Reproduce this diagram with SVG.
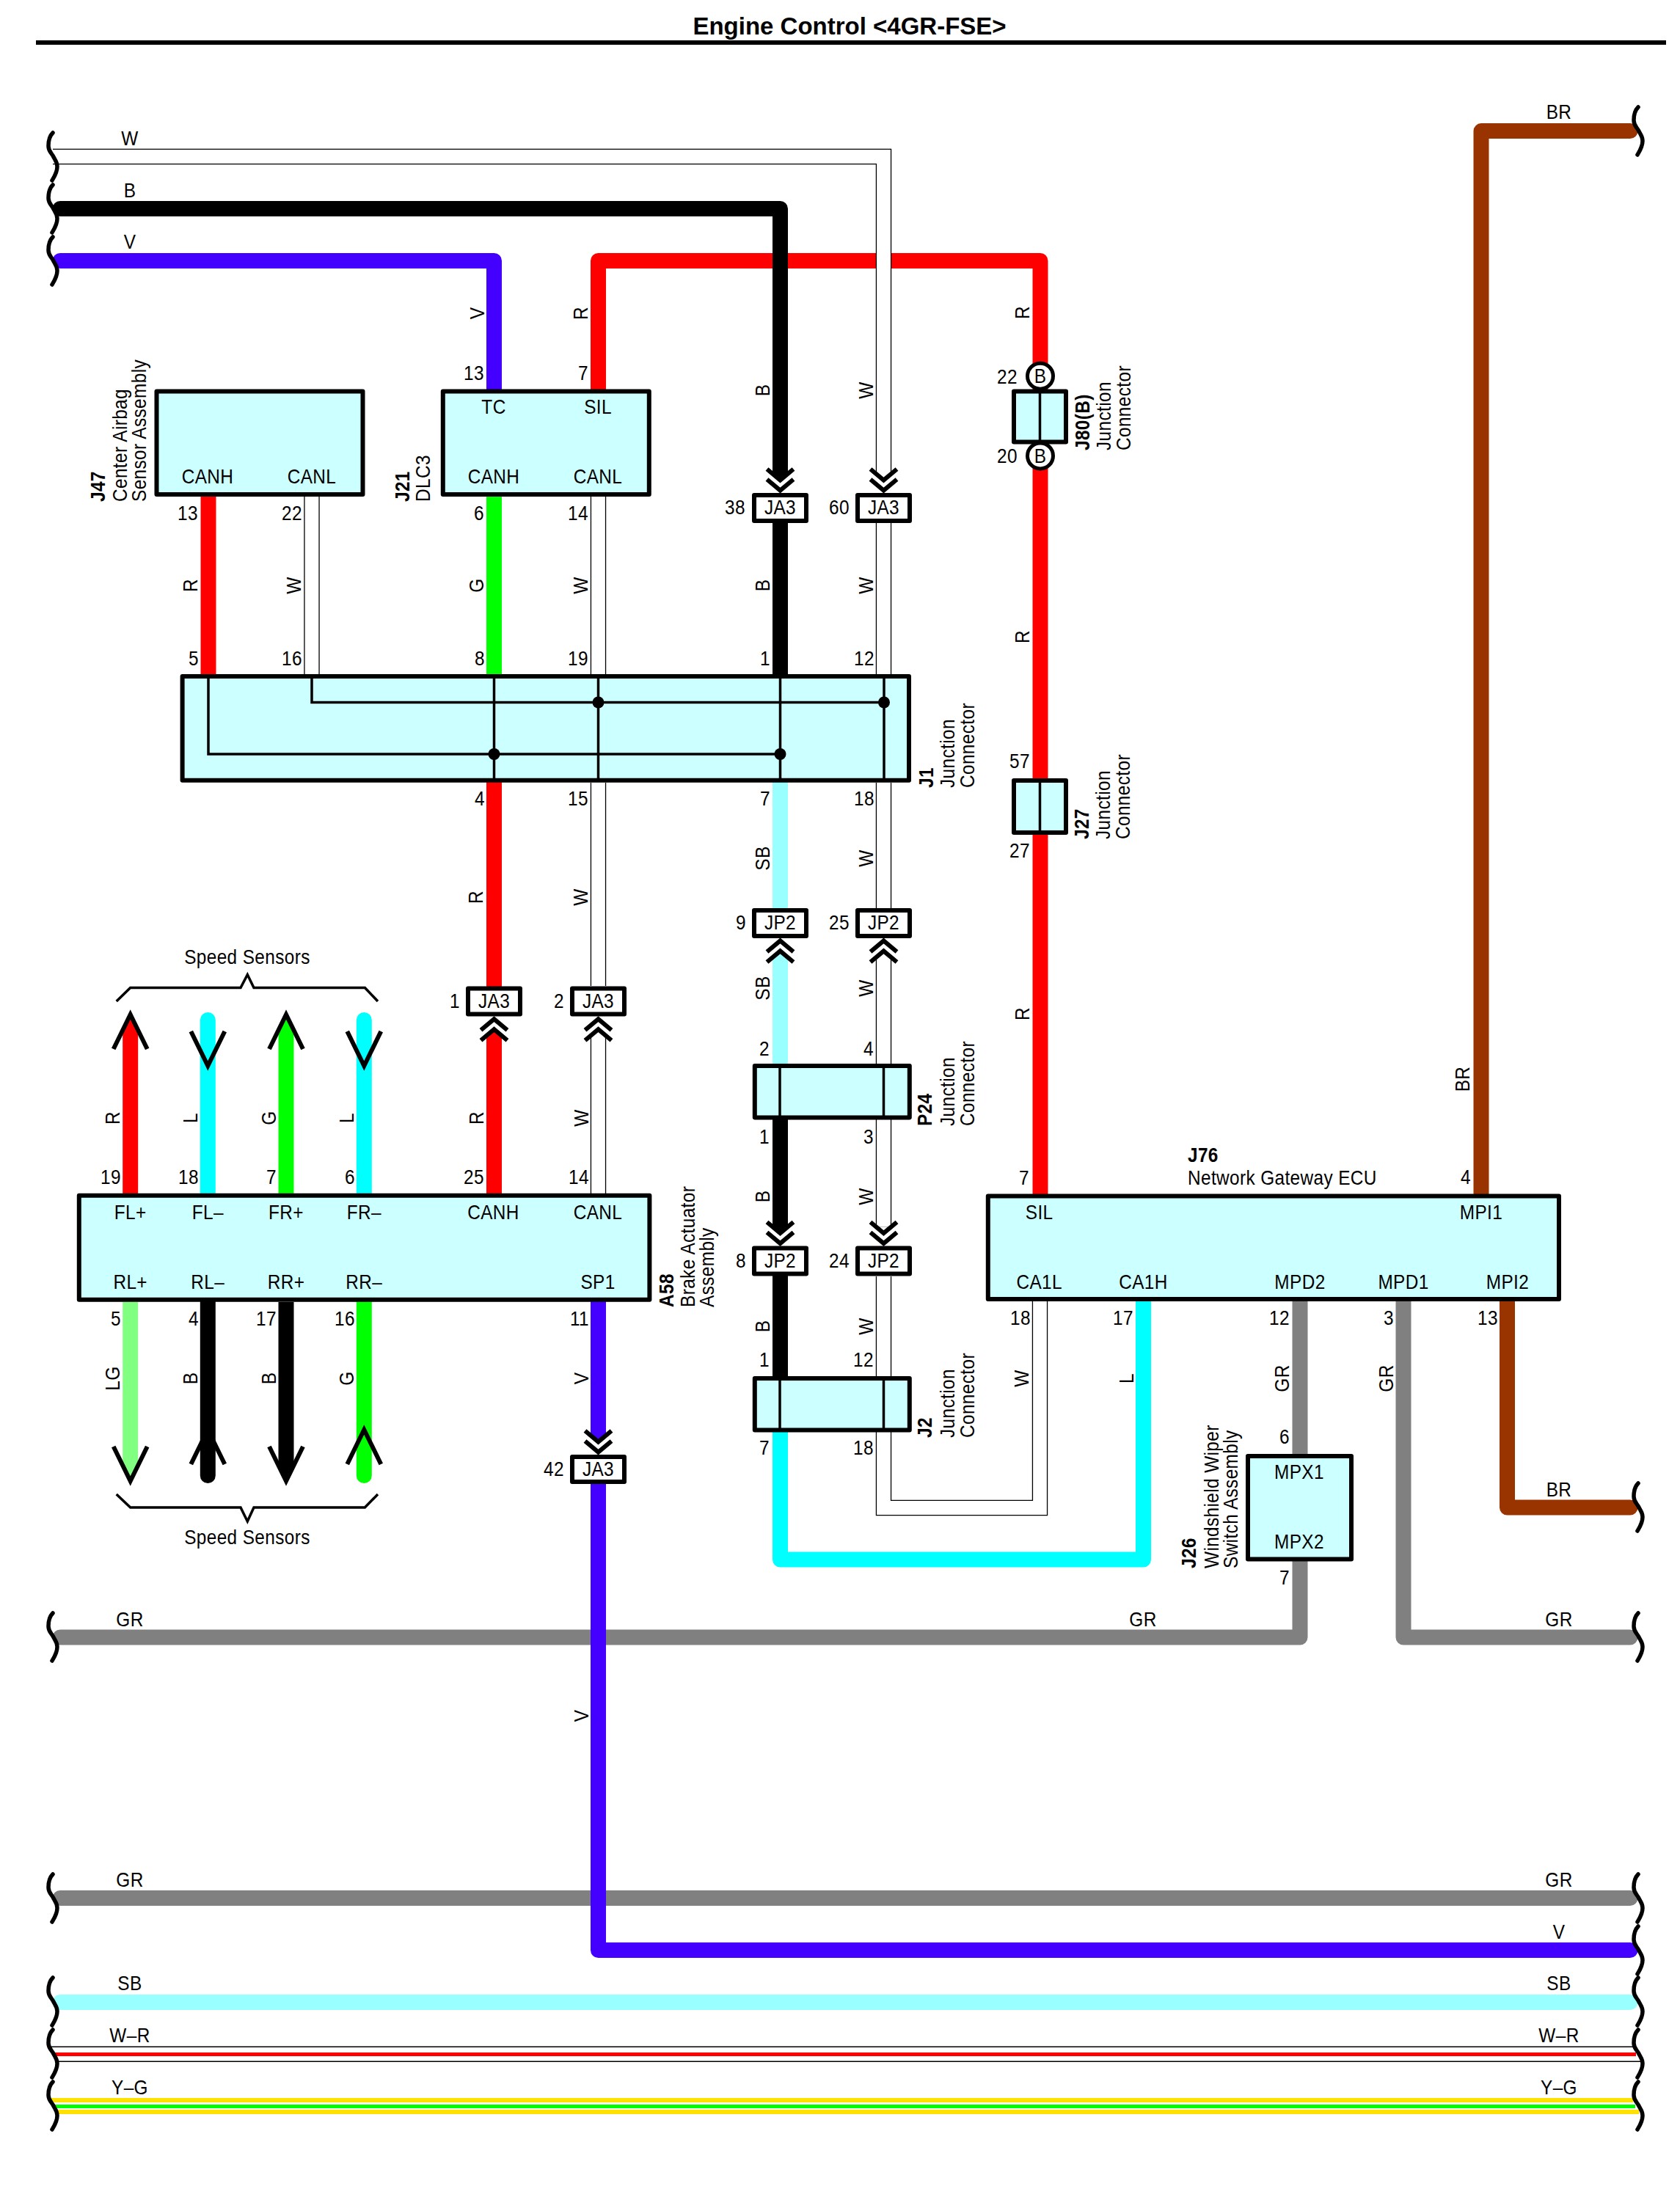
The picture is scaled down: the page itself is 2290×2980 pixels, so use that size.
<svg xmlns="http://www.w3.org/2000/svg" width="2290" height="2980" viewBox="0 0 2290 2980">
<style>
text{font-family:"Liberation Sans",Arial,sans-serif;font-size:28px;letter-spacing:.45px;fill:#000;transform-box:fill-box;transform-origin:left;transform:scaleX(.87)}
.c{text-anchor:middle}.e{text-anchor:end}.b{font-weight:bold}
.c text,text.c{transform-origin:center}
.e text,text.e{transform-origin:right}
#title{font-size:33px;font-weight:bold;letter-spacing:0;transform:none}
.box{fill:#ccffff;stroke:#000;stroke-width:6;stroke-linejoin:round}
.lbl{fill:#fff;stroke:#000;stroke-width:6;stroke-linejoin:round}
.in{fill:none;stroke:#000;stroke-width:3.5}
.w{fill:none;stroke-width:21;stroke-linecap:round;stroke-linejoin:round}
.wo{fill:none;stroke:#000;stroke-width:21.4}
.wi{fill:none;stroke:#fff;stroke-width:18.8}
.sq{fill:none;stroke:#000;stroke-width:5.5;stroke-linecap:round}
.ch{fill:none;stroke:#000;stroke-width:6}
.br{fill:none;stroke:#000;stroke-width:3.5}
.thin{fill:none;stroke:#000;stroke-width:1.4}
</style>
<defs>
<path id="sq" class="sq" d="M0 0C-4 4-6 11-6 18C-6 26-1 28 1 33C3 37 6 40 6 46C6 54 2 60-1 65"/>
<path id="cu" class="ch" d="M-18 18.5L0 3.5L18 18.5M-18 32.5L0 17.5L18 32.5"/>
<path id="cd" class="ch" d="M-18-18.5L0-3.5L18-18.5M-18-32.5L0-17.5L18-32.5"/>
<path id="au" class="ch" d="M-23 47L0 0L23 47"/>
<path id="ad" class="ch" d="M-23-47L0 0L23-47"/>
<path id="wp" d="M72 213.5H1204.5V646M1204.5 713V919M425 677V919M815.5 677V919M815.5 1067V1344M815.5 1412V1627M1204.5 1067V1238M1204.5 1305V1450M1204.5 1526V1672.5M1204.5 1740V1876M1204.5 1952V2055.5H1417.5V1774"/>
</defs>
<rect x="0" y="0" width="2290" height="2980" fill="#fff"/>
<text id="title" class="c" x="1158" y="47">Engine Control &lt;4GR-FSE&gt;</text>
<rect x="49" y="55" width="2222" height="6" fill="#000"/>

<g id="connectors">
<path class="w" stroke="#ff0000" d="M815.5 533V355.5H1418V1627"/>
<path class="w" stroke="#000" d="M82 284.5H1063.5V644"/>
<use href="#wp" class="wo"/><use href="#wp" class="wi"/>
<path class="w" stroke="#4400ff" d="M82 355.5H673.5V531"/>
<path class="w" stroke="#ff0000" d="M284 677V919M673.5 1067V1344M673.5 1413.5V1627"/>
<path class="w" stroke="#00ff00" d="M673.5 677V919"/>
<path class="w" stroke="#000" d="M1063.5 713V919M1063.5 1526V1670.5M1063.5 1740V1876"/>
<path class="w" stroke="#99ffff" d="M1063.5 1067V1238M1063.5 1307V1450M82 2729.5H2222"/>
<path class="w" stroke="#00ffff" d="M1063.5 1952V2126H1558.5V1774"/>
<path class="w" stroke="#993300" d="M2222 178.6H2019V1627M2054.5 1774V2055H2222"/>
<path class="w" stroke="#808080" d="M1772 1774V1983M82 2232H1772V2128M1913 1774V2232H2222M82 2587.5H2222"/>
<path class="w" stroke="#4400ff" d="M815.5 1775V1955M815.5 2022V2658.5H2222"/>
<!-- speed sensor wires -->
<path fill="#ff0000" d="M167.2 1627V1407L177.7 1383L188.2 1407V1627Z"/>
<path fill="#00ff00" d="M379.5 1627V1407L390 1383L400.5 1407V1627Z"/>
<path fill="#80ff80" d="M167.2 1775V1996L177.7 2020L188.2 1996V1775Z"/>
<path fill="#000" d="M379.5 1775V1996L390 2020L400.5 1996V1775Z"/>
<path class="w" stroke="#00ffff" d="M283.3 1390.5V1627M496.3 1390.5V1627"/>
<path class="w" stroke="#000" d="M283.3 1775V2011.5"/>
<path class="w" stroke="#00ff00" d="M496.3 1775V2011.5"/>
<use href="#au" x="177.7" y="1383"/><use href="#ad" x="283.3" y="1453"/><use href="#au" x="390" y="1383"/><use href="#ad" x="496.3" y="1453"/>
<use href="#ad" x="177.7" y="2019"/><use href="#au" x="283.3" y="1949"/><use href="#ad" x="390" y="2019"/><use href="#au" x="496.3" y="1949"/>
<!-- two-colour bus lines -->
<path fill="none" stroke="#ff0000" stroke-width="5" d="M75 2800.5H2230"/>
<path class="thin" d="M68 2790.3H2226M79 2810.3H2237"/>
<path fill="none" stroke="#ffe100" stroke-width="6" d="M70 2863H2226M78 2879H2234"/>
<path fill="none" stroke="#00ff00" stroke-width="5" d="M75 2871.5H2229"/>
<!-- chevrons -->
<use href="#cd" x="1063.5" y="672"/><use href="#cd" x="1204.5" y="672"/>
<use href="#cu" x="673.5" y="1385.7"/><use href="#cu" x="815.5" y="1385.7"/>
<use href="#cu" x="1063.5" y="1279"/><use href="#cu" x="1204.5" y="1279"/>
<use href="#cd" x="1063.5" y="1698.5"/><use href="#cd" x="1204.5" y="1698.5"/>
<use href="#cd" x="815.5" y="1983"/>
<!-- wire breaks -->
<use href="#sq" x="72" y="181"/><use href="#sq" x="72" y="252"/><use href="#sq" x="72" y="323"/>
<use href="#sq" x="72" y="2199"/><use href="#sq" x="72" y="2555"/><use href="#sq" x="72" y="2696"/><use href="#sq" x="72" y="2767"/><use href="#sq" x="72" y="2838"/>
<use href="#sq" x="2233" y="146"/><use href="#sq" x="2233" y="2022"/><use href="#sq" x="2233" y="2199"/><use href="#sq" x="2233" y="2555"/><use href="#sq" x="2233" y="2626"/><use href="#sq" x="2233" y="2696"/><use href="#sq" x="2233" y="2767"/><use href="#sq" x="2233" y="2838"/>
<!-- horizontal wire labels -->
<g class="c">
<text x="177" y="198">W</text><text x="177" y="269">B</text><text x="177" y="339">V</text>
<text x="2125" y="162">BR</text><text x="2125" y="2040">BR</text>
<text x="177" y="2217">GR</text><text x="1558" y="2217">GR</text><text x="2125" y="2217">GR</text>
<text x="177" y="2572">GR</text><text x="2125" y="2572">GR</text>
<text x="2125" y="2643">V</text>
<text x="177" y="2713">SB</text><text x="2125" y="2713">SB</text>
<text x="177" y="2784">W–R</text><text x="2125" y="2784">W–R</text>
<text x="177" y="2855">Y–G</text><text x="2125" y="2855">Y–G</text>
</g>
<!-- vertical wire labels -->
<g class="c">
<g transform="translate(660 427) rotate(-90)"><text>V</text></g>
<g transform="translate(801 427) rotate(-90)"><text>R</text></g>
<g transform="translate(1049 532) rotate(-90)"><text>B</text></g>
<g transform="translate(1190 532) rotate(-90)"><text>W</text></g>
<g transform="translate(1403 426) rotate(-90)"><text>R</text></g>
<g transform="translate(269 798) rotate(-90)"><text>R</text></g>
<g transform="translate(410 798) rotate(-90)"><text>W</text></g>
<g transform="translate(659 798) rotate(-90)"><text>G</text></g>
<g transform="translate(801 798) rotate(-90)"><text>W</text></g>
<g transform="translate(1049 798) rotate(-90)"><text>B</text></g>
<g transform="translate(1190 798) rotate(-90)"><text>W</text></g>
<g transform="translate(1403 868) rotate(-90)"><text>R</text></g>
<g transform="translate(658 1223) rotate(-90)"><text>R</text></g>
<g transform="translate(801 1223) rotate(-90)"><text>W</text></g>
<g transform="translate(1049 1170) rotate(-90)"><text>SB</text></g>
<g transform="translate(1190 1170) rotate(-90)"><text>W</text></g>
<g transform="translate(1403 1382) rotate(-90)"><text>R</text></g>
<g transform="translate(1049 1347) rotate(-90)"><text>SB</text></g>
<g transform="translate(1190 1347) rotate(-90)"><text>W</text></g>
<g transform="translate(163 1524) rotate(-90)"><text>R</text></g>
<g transform="translate(269 1524) rotate(-90)"><text>L</text></g>
<g transform="translate(376 1524) rotate(-90)"><text>G</text></g>
<g transform="translate(482 1524) rotate(-90)"><text>L</text></g>
<g transform="translate(659 1524) rotate(-90)"><text>R</text></g>
<g transform="translate(802 1524) rotate(-90)"><text>W</text></g>
<g transform="translate(1049 1631) rotate(-90)"><text>B</text></g>
<g transform="translate(1190 1631) rotate(-90)"><text>W</text></g>
<g transform="translate(2003 1471) rotate(-90)"><text>BR</text></g>
<g transform="translate(163 1879) rotate(-90)"><text>LG</text></g>
<g transform="translate(269 1879) rotate(-90)"><text>B</text></g>
<g transform="translate(376 1879) rotate(-90)"><text>B</text></g>
<g transform="translate(482 1879) rotate(-90)"><text>G</text></g>
<g transform="translate(802 1879) rotate(-90)"><text>V</text></g>
<g transform="translate(1049 1808) rotate(-90)"><text>B</text></g>
<g transform="translate(1190 1808) rotate(-90)"><text>W</text></g>
<g transform="translate(1402 1879) rotate(-90)"><text>W</text></g>
<g transform="translate(1545 1879) rotate(-90)"><text>L</text></g>
<g transform="translate(1757 1879) rotate(-90)"><text>GR</text></g>
<g transform="translate(1899 1879) rotate(-90)"><text>GR</text></g>
<g transform="translate(802 2339) rotate(-90)"><text>V</text></g>
</g>
<!-- pin numbers -->
<g class="e">
<text x="660" y="518">13</text><text x="802" y="518">7</text>
<text x="270" y="709">13</text><text x="412" y="709">22</text><text x="660" y="709">6</text><text x="802" y="709">14</text>
<text x="271" y="907">5</text><text x="412" y="907">16</text><text x="661" y="907">8</text><text x="802" y="907">19</text><text x="1050" y="907">1</text><text x="1192" y="907">12</text>
<text x="661" y="1098">4</text><text x="802" y="1098">15</text><text x="1050" y="1098">7</text><text x="1192" y="1098">18</text>
<text x="1404" y="1047">57</text><text x="1404" y="1169">27</text>
<text x="165" y="1614">19</text><text x="271" y="1614">18</text><text x="377" y="1614">7</text><text x="484" y="1614">6</text><text x="660" y="1614">25</text><text x="803" y="1614">14</text>
<text x="165" y="1807">5</text><text x="271" y="1807">4</text><text x="377" y="1807">17</text><text x="484" y="1807">16</text><text x="803" y="1807">11</text>
<text x="1049" y="1439">2</text><text x="1191" y="1439">4</text><text x="1049" y="1559">1</text><text x="1191" y="1559">3</text>
<text x="1049" y="1863">1</text><text x="1191" y="1863">12</text><text x="1049" y="1983">7</text><text x="1191" y="1983">18</text>
<text x="1403" y="1615">7</text><text x="2005" y="1614">4</text>
<text x="1405" y="1806">18</text><text x="1545" y="1806">17</text><text x="1758" y="1806">12</text><text x="1900" y="1806">3</text><text x="2042" y="1806">13</text>
<text x="1758" y="1968">6</text><text x="1758" y="2160">7</text>
</g>
</g>

<g id="J47"><rect class="box" x="213.5" y="533.6" width="281" height="140.4"/>
<text class="c" x="283" y="659">CANH</text><text class="c" x="425" y="659">CANL</text>
<g transform="translate(143 684) rotate(-90)"><text class="b">J47</text></g><g transform="translate(173 684) rotate(-90)"><text>Center Airbag</text></g><g transform="translate(199 684) rotate(-90)"><text>Sensor Assembly</text></g></g>

<g id="J21"><rect class="box" x="603.8" y="533.6" width="281" height="140.4"/>
<text class="c" x="673" y="564">TC</text><text class="c" x="815" y="564">SIL</text><text class="c" x="673" y="659">CANH</text><text class="c" x="815" y="659">CANL</text>
<g transform="translate(558 684) rotate(-90)"><text class="b">J21</text></g><g transform="translate(586 684) rotate(-90)"><text>DLC3</text></g></g>

<g id="J1"><rect class="box" x="248.6" y="922" width="990.4" height="141.7"/>
<path class="in" d="M284 922V1028H1063.5M425 922V957.5H1205M673.5 922V1064M815.5 922V1064M1063.5 922V1064M1205 922V1064"/>
<circle cx="815.5" cy="957.5" r="8"/><circle cx="1205" cy="957.5" r="8"/><circle cx="673.5" cy="1028" r="8"/><circle cx="1063.5" cy="1028" r="8"/>
<g transform="translate(1272 1074) rotate(-90)"><text class="b">J1</text></g><g transform="translate(1301 1074) rotate(-90)"><text>Junction</text></g><g transform="translate(1328 1074) rotate(-90)"><text>Connector</text></g></g>

<g id="J80"><rect class="box" x="1382" y="533.6" width="71" height="69"/><path class="in" d="M1417.5 534V603"/>
<circle cx="1418" cy="512.7" r="17.5" fill="#fff" stroke="#000" stroke-width="5"/><circle cx="1418" cy="621.4" r="17.5" fill="#fff" stroke="#000" stroke-width="5"/>
<text class="c" x="1418" y="522">B</text><text class="c" x="1418" y="631">B</text>
<text class="e" x="1387" y="523">22</text><text class="e" x="1387" y="631">20</text>
<g transform="translate(1485 614) rotate(-90)"><text class="b">J80(B)</text></g><g transform="translate(1514 614) rotate(-90)"><text>Junction</text></g><g transform="translate(1541 614) rotate(-90)"><text>Connector</text></g></g>

<g id="J27"><rect class="box" x="1382" y="1064" width="71" height="71"/><path class="in" d="M1417.5 1064V1135"/>
<g transform="translate(1484 1144) rotate(-90)"><text class="b">J27</text></g><g transform="translate(1513 1144) rotate(-90)"><text>Junction</text></g><g transform="translate(1540 1144) rotate(-90)"><text>Connector</text></g></g>

<g id="JA3-38"><rect class="lbl" x="1028" y="675" width="71" height="35"/><text class="c" x="1063.5" y="701">JA3</text><text class="e" x="1016" y="701">38</text></g>
<g id="JA3-60"><rect class="lbl" x="1169" y="675" width="71" height="35"/><text class="c" x="1204.5" y="701">JA3</text><text class="e" x="1158" y="701">60</text></g>
<g id="JA3-1"><rect class="lbl" x="638" y="1347.5" width="71" height="35"/><text class="c" x="673.5" y="1374">JA3</text><text class="e" x="627" y="1374">1</text></g>
<g id="JA3-2"><rect class="lbl" x="780" y="1347.5" width="71" height="35"/><text class="c" x="815.5" y="1374">JA3</text><text class="e" x="769" y="1374">2</text></g>
<g id="JA3-42"><rect class="lbl" x="780" y="1986" width="71" height="34"/><text class="c" x="815.5" y="2012">JA3</text><text class="e" x="769" y="2012">42</text></g>
<g id="JP2-9"><rect class="lbl" x="1028" y="1241" width="71" height="35"/><text class="c" x="1063.5" y="1267">JP2</text><text class="e" x="1017" y="1267">9</text></g>
<g id="JP2-25"><rect class="lbl" x="1169" y="1241" width="71" height="35"/><text class="c" x="1204.5" y="1267">JP2</text><text class="e" x="1158" y="1267">25</text></g>
<g id="JP2-8"><rect class="lbl" x="1028" y="1701.5" width="71" height="35"/><text class="c" x="1063.5" y="1728">JP2</text><text class="e" x="1017" y="1728">8</text></g>
<g id="JP2-24"><rect class="lbl" x="1169" y="1701.5" width="71" height="35"/><text class="c" x="1204.5" y="1728">JP2</text><text class="e" x="1158" y="1728">24</text></g>

<g id="P24"><rect class="box" x="1028.8" y="1453" width="211" height="70.4"/><path class="in" d="M1063 1453V1523M1204.5 1453V1523"/>
<g transform="translate(1270 1535) rotate(-90)"><text class="b">P24</text></g><g transform="translate(1301 1535) rotate(-90)"><text>Junction</text></g><g transform="translate(1328 1535) rotate(-90)"><text>Connector</text></g></g>

<g id="J2"><rect class="box" x="1028.8" y="1879" width="211" height="70.4"/><path class="in" d="M1063 1879V1949M1204.5 1879V1949"/>
<g transform="translate(1270 1960) rotate(-90)"><text class="b">J2</text></g><g transform="translate(1301 1960) rotate(-90)"><text>Junction</text></g><g transform="translate(1328 1960) rotate(-90)"><text>Connector</text></g></g>

<g id="A58"><rect class="box" x="107.8" y="1629.7" width="777.6" height="142"/>
<g class="c"><text x="177.7" y="1662">FL+</text><text x="283.3" y="1662">FL–</text><text x="390" y="1662">FR+</text><text x="496.3" y="1662">FR–</text><text x="672.5" y="1662">CANH</text><text x="815" y="1662">CANL</text>
<text x="177.7" y="1757">RL+</text><text x="283.3" y="1757">RL–</text><text x="390" y="1757">RR+</text><text x="496.3" y="1757">RR–</text><text x="815" y="1757">SP1</text></g>
<g transform="translate(918 1782) rotate(-90)"><text class="b">A58</text></g><g transform="translate(947 1782) rotate(-90)"><text>Brake Actuator</text></g><g transform="translate(973 1782) rotate(-90)"><text>Assembly</text></g></g>

<g id="speed-sensors-top"><text class="c" x="337" y="1314">Speed Sensors</text><path class="br" d="M158.7 1365L177.7 1346.5H328L337.3 1328.6L346 1346.5H497.4L515 1365"/></g>
<g id="speed-sensors-bottom"><text class="c" x="337" y="2105">Speed Sensors</text><path class="br" d="M158.7 2037L177.7 2055H328L337.3 2074L346 2055H497.4L515 2037"/></g>

<g id="J76"><rect class="box" x="1346.8" y="1630.6" width="778.2" height="140.4"/>
<g class="c"><text x="1416.7" y="1662">SIL</text><text x="2019" y="1662">MPI1</text><text x="1416.7" y="1757">CA1L</text><text x="1558.5" y="1757">CA1H</text><text x="1772" y="1757">MPD2</text><text x="1913" y="1757">MPD1</text><text x="2055" y="1757">MPI2</text></g>
<text class="b" x="1619" y="1584">J76</text><text x="1619" y="1615">Network Gateway ECU</text></g>

<g id="J26"><rect class="box" x="1701" y="1985" width="141" height="140.6"/>
<text class="c" x="1771" y="2016">MPX1</text><text class="c" x="1771" y="2111">MPX2</text>
<g transform="translate(1630 2138) rotate(-90)"><text class="b">J26</text></g><g transform="translate(1661 2138) rotate(-90)"><text>Windshield Wiper</text></g><g transform="translate(1687 2138) rotate(-90)"><text>Switch Assembly</text></g></g>
</svg>
